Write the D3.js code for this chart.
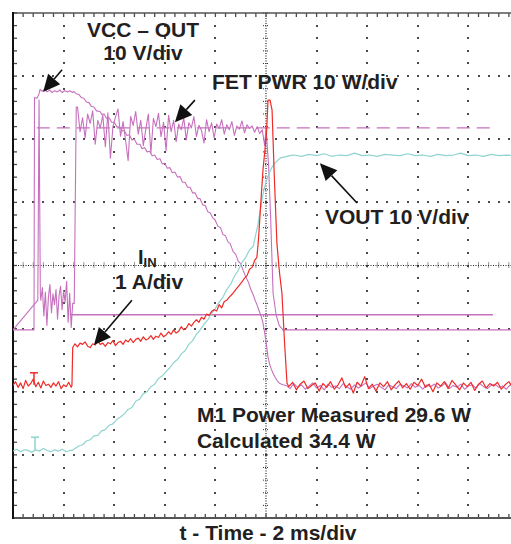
<!DOCTYPE html>
<html>
<head>
<meta charset="utf-8">
<script src="https://cdn.jsdelivr.net/npm/d3@7"></script>
<style>
  body { margin: 0; background: #fff; }
  svg { display: block; }
  .label { font-family: "Liberation Sans", Arial, sans-serif; font-weight: bold; fill: #231f20; }
</style>
</head>
<body>
<div id="scope"></div>
<script>
// time in ms (2 ms/div), trace values in screen divisions (0 = centre line)

// VCC - OUT (magenta)
const vccOutRise = [[0,-1.02],[0.83,-1.02],[0.85,2.66],[0.95,2.65],[1.02,2.71],[1.07,2.79],[1.15,2.76],[1.25,2.79],
  [1.35,2.75],[1.45,2.78],[1.55,2.74],[1.65,2.77],[1.75,2.75],[1.85,2.78],[1.95,2.74],[2.05,2.77],[2.15,2.75],
  [2.25,2.77],[2.35,2.74]];
const vccOutFall = [[2.4,2.76],[2.5,2.72],[2.6,2.71],[2.7,2.66],[2.8,2.65],[2.9,2.59],[3.0,2.58],[3.1,2.52],[3.2,2.51],
  [3.3,2.45],[3.44,2.44],[3.52,2.39],[3.6,2.40],[3.7,2.33],[3.8,2.34],[3.9,2.27],[4.0,2.27],[4.1,2.20],[4.23,2.19],
  [4.32,2.13],[4.4,2.14],[4.5,2.06],[4.6,2.07],[4.7,1.99],[4.8,2.00],[4.9,1.92],[5.02,1.92],[5.1,1.85],[5.2,1.87],
  [5.3,1.80],[5.4,1.81],[5.5,1.74],[5.6,1.75],[5.7,1.68],[5.81,1.69],[5.9,1.61],[6.0,1.62],[6.1,1.54],[6.2,1.55],
  [6.3,1.47],[6.4,1.48],[6.5,1.40],[6.6,1.41],[6.7,1.32],[6.8,1.32],[6.9,1.24],[7.0,1.24],[7.1,1.15],[7.2,1.15],
  [7.3,1.06],[7.39,1.06],[7.5,0.96],[7.6,0.95],[7.7,0.85],[7.8,0.83],[7.9,0.75],[7.98,0.73],[8.1,0.62],[8.2,0.60],
  [8.3,0.49],[8.4,0.47],[8.5,0.37],[8.58,0.35],[8.7,0.22],[8.8,0.18],[8.9,0.07],[9.0,0.03],[9.09,-0.07],[9.2,-0.18],
  [9.3,-0.26],[9.4,-0.38],[9.5,-0.47],[9.57,-0.55],[9.66,-0.64],[9.75,-0.74],[9.82,-0.82],[9.88,-0.91],[9.94,-1.05],
  [10.0,-1.20],[10.08,-1.45],[10.14,-1.56],[10.2,-1.63],[10.28,-1.71],[10.36,-1.77],[10.45,-1.83],[10.55,-1.87],[10.67,-1.89]];
// sampled every 0.15 ms from 10.8 ms
const vccOutTail = [-1.90,-1.95,-1.87,-1.93,-1.89,-1.96,-1.91,-1.86,-1.94,-1.90,-1.97,-1.88,-1.93,-1.91,-1.95,-1.87,
  -1.92,-1.96,-1.89,-1.94,-1.90,-1.86,-1.95,-1.91,-1.88,-1.93,-1.97,-1.89,-1.92,-1.95,-1.88,-1.91,-1.94,-1.87,-1.93,
  -1.90,-1.96,-1.89,-1.92,-1.88,-1.94,-1.91,-1.86,-1.95,-1.90,-1.93,-1.88,-1.96,-1.91,-1.89,-1.94,-1.87,-1.92,-1.95,
  -1.90,-1.88,-1.93,-1.91,-1.96,-1.89,-1.92,-1.90];

// FET PWR (magenta)
const fetSpike = [[0.98,-0.55],[1.03,2.62],[1.08,-0.45]];
// sampled every 0.06 ms from 1.1 ms
const fetStart = [-0.55,-0.35,-0.80,-0.42,-0.95,-0.50,-0.30,-0.75,-0.45,-0.62,-0.38,-0.85,-0.48,-0.33,-0.70,-0.40,
  -0.58,-0.25,-0.90,-0.44,-0.98,-0.60];
// sampled every 0.1 ms from 2.55 ms
const fetOn = [2.51,2.12,2.34,2.02,2.40,2.25,2.45,1.92,2.30,2.18,
  2.38,1.88,2.42,1.70,2.20,2.35,2.48,2.05,2.28,1.98,
  1.66,2.36,2.22,2.44,2.08,2.30,1.90,2.16,2.40,1.78,
  2.33,2.20,2.41,2.04,2.27,1.82,2.38,2.12,2.30,1.96,
  2.24,2.15,2.34,1.99,2.26,2.18,2.36,2.04,2.22,2.14,
  1.94,2.31,2.12,2.26,2.02,2.24,2.17,2.31,2.08,2.23,
  2.15,2.28,2.06,2.21,2.16,2.29,2.10,2.23,2.17,2.21,
  2.11,2.20,2.09,2.15];
const fetOff = [[9.95,1.90],[10.0,2.18],[10.04,1.95],[10.1,1.60],[10.18,0.80],[10.28,-0.44],[10.4,-0.78],[10.52,-0.95],
  [10.67,-1.02],[20,-1.02]];

// I_IN (red)
// sampled every 0.1 ms from 0 ms
const iinBase = [-1.90,-1.84,-1.93,-1.86,-1.95,-1.82,-1.91,-1.87,-1.80,-1.92,-1.85,-1.94,-1.83,-1.90,-1.88,-1.93,
  -1.86,-1.91,-1.84,-1.95,-1.89,-1.92,-1.85,-1.93];
const iinRamp = [[2.33,-1.90],[2.36,-1.30],[2.45,-1.24],[2.55,-1.29],[2.65,-1.23],[2.75,-1.25],[2.85,-1.21],[2.95,-1.28],
  [3.05,-1.30],[3.15,-1.24],[3.25,-1.26],[3.35,-1.20],[3.45,-1.25],[3.55,-1.23],[3.65,-1.28],[3.75,-1.22],[3.85,-1.24],
  [3.95,-1.19],[4.05,-1.27],[4.15,-1.22],[4.25,-1.20],[4.35,-1.25],[4.45,-1.18],[4.55,-1.21],[4.65,-1.16],[4.75,-1.22],
  [4.85,-1.17],[4.95,-1.15],[5.05,-1.20],[5.15,-1.13],[5.25,-1.18],[5.35,-1.16],[5.45,-1.11],[5.55,-1.17],[5.65,-1.12],
  [5.75,-1.14],[5.85,-1.07],[5.95,-1.13],[6.05,-1.10],[6.15,-1.05],[6.25,-1.09],[6.35,-1.02],[6.45,-1.07],[6.55,-1.04],
  [6.65,-0.97],[6.75,-1.02],[6.85,-0.99],[6.95,-0.92],[7.05,-0.96],[7.15,-0.90],[7.25,-0.86],[7.35,-0.90],[7.45,-0.82],
  [7.55,-0.85],[7.65,-0.77],[7.75,-0.79],[7.85,-0.73],[7.95,-0.70],[8.05,-0.72],[8.15,-0.62],[8.25,-0.67],[8.35,-0.57],
  [8.45,-0.55],[8.55,-0.50],[8.65,-0.46],[8.75,-0.41],[8.85,-0.36],[8.95,-0.31],[9.05,-0.26],[9.15,-0.20],[9.25,-0.16],
  [9.35,-0.06],[9.45,-0.03],[9.55,0.08],[9.64,0.13],[9.70,0.40],[9.76,0.77],[9.82,1.15],[9.88,1.51],[9.95,1.80],
  [10.02,2.10],[10.08,2.62],[10.16,2.62],[10.24,2.46],[10.32,1.50],[10.43,0.36],[10.53,-0.10],[10.63,-0.44],
  [10.73,-1.20],[10.83,-1.86]];
// sampled every 0.15 ms from 10.9 ms
const iinTail = [-1.92,-1.85,-1.97,-1.88,-1.83,-1.95,-1.90,-1.86,-1.99,-1.87,-1.93,-1.84,-1.96,-1.89,-1.78,-1.94,
  -1.87,-2.02,-1.85,-1.91,-1.76,-1.95,-1.88,-1.99,-1.86,-1.92,-1.84,-1.97,-1.89,-1.83,-1.94,-1.87,-1.96,-1.85,-1.90,
  -1.80,-1.93,-1.88,-2.00,-1.86,-1.91,-1.84,-1.95,-1.82,-1.89,-1.97,-1.86,-1.92,-1.85,-1.98,-1.88,-1.83,-1.94,-1.87,
  -1.91,-1.85,-1.96,-1.89,-1.84,-1.93,-1.88,-1.90];

// VOUT (cyan)
// sampled every 0.15 ms from 0 ms
const voutBase = [-2.94,-2.91,-2.95,-2.92,-2.93,-2.96,-2.92,-2.94,-2.90,-2.93,-2.95,-2.92,-2.94,-2.91,-2.95,-2.93];
const voutRamp = [[2.33,-2.93],[2.45,-2.90],[2.6,-2.86],[2.75,-2.84],[2.9,-2.78],[3.05,-2.76],[3.2,-2.70],[3.35,-2.69],
  [3.5,-2.62],[3.65,-2.60],[3.8,-2.53],[3.95,-2.51],[4.1,-2.44],[4.25,-2.40],[4.4,-2.35],[4.55,-2.28],[4.7,-2.25],
  [4.85,-2.15],[5.0,-2.12],[5.15,-2.03],[5.3,-2.00],[5.45,-1.92],[5.6,-1.88],[5.75,-1.79],[5.9,-1.75],[6.05,-1.68],
  [6.2,-1.62],[6.35,-1.54],[6.5,-1.49],[6.65,-1.40],[6.8,-1.35],[6.95,-1.25],[7.1,-1.19],[7.25,-1.09],[7.4,-1.02],
  [7.55,-0.93],[7.7,-0.86],[7.85,-0.76],[8.0,-0.68],[8.15,-0.58],[8.3,-0.50],[8.45,-0.38],[8.6,-0.30],[8.75,-0.17],
  [8.9,-0.08],[9.05,0.05],[9.2,0.13],[9.35,0.25],[9.49,0.30],[9.6,0.50],[9.68,0.64],[9.76,0.85],[9.84,1.04],
  [9.92,1.20],[10.0,1.32],[10.12,1.46],[10.24,1.56],[10.35,1.62],[10.47,1.67],[10.6,1.71],[10.75,1.72],[10.95,1.74]];
// sampled every 0.3 ms from 11.1 ms
const voutTail = [1.75,1.73,1.76,1.74,1.77,1.73,1.75,1.74,1.78,1.74,1.75,1.73,1.76,1.75,1.74,1.77,1.74,1.75,1.73,
  1.76,1.74,1.75,1.78,1.74,1.75,1.73,1.76,1.74,1.75,1.74];

// cursors and ground markers
const powerCursor = [[0.94,2.18],[18.97,2.18]];
const levelLine = [[2.25,-0.78],[18.97,-0.78]];
const groundMarks = [{t: 0.83, top: -1.70, base: -1.89, trace: "iin"}, {t: 0.87, top: -2.72, base: -2.93, trace: "vout"}];

// annotation text and arrows (ms, div)
const labels = [
  {text: "VCC \u2013 OUT", t: 5.14, v: 3.62, anchor: "middle"},
  {text: "10 V/div", t: 5.14, v: 3.26, anchor: "middle"},
  {text: "FET PWR 10 W/div", t: 7.87, v: 2.80, anchor: "start"},
  {text: "VOUT 10 V/div", t: 12.33, v: 0.66, anchor: "start"},
  {text: "1 A/div", t: 5.38, v: -0.37, anchor: "middle"},
  {text: "M1 Power Measured 29.6 W", t: 7.27, v: -2.48, anchor: "start"},
  {text: "Calculated 34.4 W", t: 7.27, v: -2.89, anchor: "start"}
];
const arrows = [
  {from: [1.94, 3.10], to: [1.19, 2.75]},
  {from: [7.19, 2.62], to: [6.40, 2.27]},
  {from: [13.60, 0.99], to: [12.13, 1.62]},
  {from: [4.70, -0.55], to: [3.20, -1.26]}
];

const colors = {vcc: "#c670bd", iin: "#ee2b27", vout: "#8fd4cf", grid: "#4a4a4a"};

function sampled(start, step, values) {
  return values.map((v, i) => [start + i * step, v]);
}

class ScopeChart {

    constructor(parentElement) {
        this.parentElement = parentElement;
        this.initVis();
    }

    initVis() {
        let vis = this;

        vis.width = 511;
        vis.height = 544;

        vis.svg = d3.select("#" + vis.parentElement).append("svg")
            .attr("width", vis.width)
            .attr("height", vis.height);

        vis.svg.append("rect").attr("width", vis.width).attr("height", vis.height).attr("fill", "#fff");

        // 10 x 8 divisions
        vis.x = d3.scaleLinear().domain([0, 20]).range([13, 519]);
        vis.y = d3.scaleLinear().domain([-4, 4]).range([518, 13]);

        vis.svg.append("defs").append("clipPath")
            .attr("id", "clip")
            .append("rect")
            .attr("x", 13).attr("y", 12)
            .attr("width", vis.width - 13).attr("height", 507);

        vis.drawGrid();
        vis.drawTraces();
        vis.drawAnnotations();
    }

    drawGrid() {
        let vis = this;
        let g = vis.svg.append("g").attr("class", "grid");

        let majorX = d3.range(2, 19, 2).filter(d => d !== 10);
        let majorY = d3.range(-3, 4, 1).filter(d => d !== 0);
        let minorX = d3.range(0, 20.01, 0.4);
        let minorY = d3.range(-4, 4.01, 0.2);

        // dotted graticule
        majorX.forEach(t => {
            g.selectAll(null).data(minorY.slice(1, -1)).enter().append("rect")
                .attr("x", Math.round(vis.x(t)) - 1).attr("y", d => Math.round(vis.y(d)) - 1)
                .attr("width", 2).attr("height", 2).attr("fill", colors.grid);
        });
        majorY.forEach(v => {
            g.selectAll(null).data(minorX.slice(1)).enter().append("rect")
                .attr("x", d => Math.round(vis.x(d)) - 1).attr("y", Math.round(vis.y(v)) - 1)
                .attr("width", 2).attr("height", 2).attr("fill", colors.grid);
        });

        // centre axes with minor ticks
        g.append("line")
            .attr("x1", vis.x(10)).attr("x2", vis.x(10))
            .attr("y1", vis.y(4)).attr("y2", vis.y(-4))
            .attr("stroke", "#222").attr("stroke-width", 1.2).attr("stroke-dasharray", "1,1.5");
        g.append("line")
            .attr("x1", vis.x(0)).attr("x2", vis.width)
            .attr("y1", vis.y(0)).attr("y2", vis.y(0))
            .attr("stroke", "#222").attr("stroke-width", 1.2).attr("stroke-dasharray", "1,1.5");
        g.selectAll(".cy").data(minorY).enter().append("line")
            .attr("x1", vis.x(10) - 3).attr("x2", vis.x(10) + 3)
            .attr("y1", d => vis.y(d)).attr("y2", d => vis.y(d))
            .attr("stroke", "#333").attr("stroke-width", 1).attr("stroke-dasharray", "1,1");
        g.selectAll(".cx").data(minorX).enter().append("line")
            .attr("x1", d => vis.x(d)).attr("x2", d => vis.x(d))
            .attr("y1", vis.y(0) - 3).attr("y2", vis.y(0) + 3)
            .attr("stroke", "#333").attr("stroke-width", 1).attr("stroke-dasharray", "1,1");

        // edge ticks
        g.selectAll(".tt").data(minorX).enter().append("line")
            .attr("x1", d => vis.x(d)).attr("x2", d => vis.x(d))
            .attr("y1", vis.y(4)).attr("y2", vis.y(4) + 4)
            .attr("stroke", colors.grid).attr("stroke-width", 1.3);
        g.selectAll(".bt").data(minorX).enter().append("line")
            .attr("x1", d => vis.x(d)).attr("x2", d => vis.x(d))
            .attr("y1", vis.y(-4)).attr("y2", vis.y(-4) - 4)
            .attr("stroke", colors.grid).attr("stroke-width", 1.3);
        g.selectAll(".lt").data(minorY).enter().append("line")
            .attr("x1", vis.x(0)).attr("x2", vis.x(0) + 4)
            .attr("y1", d => vis.y(d)).attr("y2", d => vis.y(d))
            .attr("stroke", colors.grid).attr("stroke-width", 1.3);

        // frame
        g.append("line").attr("x1", vis.x(0)).attr("x2", vis.width)
            .attr("y1", vis.y(4)).attr("y2", vis.y(4))
            .attr("stroke", "#555").attr("stroke-width", 1.6);
        g.append("line").attr("x1", vis.x(0)).attr("x2", vis.width)
            .attr("y1", vis.y(-4)).attr("y2", vis.y(-4))
            .attr("stroke", "#555").attr("stroke-width", 2);
        g.append("line").attr("x1", vis.x(0)).attr("x2", vis.x(0))
            .attr("y1", vis.y(4) - 1).attr("y2", vis.y(-4) + 1)
            .attr("stroke", "#111").attr("stroke-width", 2);
    }

    drawTraces() {
        let vis = this;
        let g = vis.svg.append("g").attr("clip-path", "url(#clip)");

        let line = d3.line().x(d => vis.x(d[0])).y(d => vis.y(d[1]));

        let traces = [
            {data: powerCursor, color: colors.vcc, dash: "13,7", w: 1.3},
            {data: levelLine, color: colors.vcc, w: 1.5},
            {data: [[0, -1.02]].concat(fetSpike, sampled(1.1, 0.06, fetStart), [[2.42, -0.6], [2.5, 2.51]],
                sampled(2.55, 0.1, fetOn), fetOff), color: colors.vcc, w: 1.1},
            {data: vccOutRise.concat(vccOutFall, sampled(10.8, 0.15, vccOutTail)), color: colors.vcc, w: 1.1},
            {data: sampled(0, 0.15, voutBase).concat(voutRamp, sampled(11.1, 0.3, voutTail)), color: colors.vout, w: 1.2},
            {data: sampled(0, 0.1, iinBase).concat(iinRamp, sampled(10.9, 0.15, iinTail)), color: colors.iin, w: 1.2}
        ];

        g.selectAll("path.trace").data(traces).enter().append("path")
            .attr("class", "trace")
            .attr("d", d => line(d.data))
            .attr("fill", "none")
            .attr("stroke", d => d.color)
            .attr("stroke-width", d => d.w)
            .attr("stroke-dasharray", d => d.dash || null)
            .attr("stroke-linejoin", "round");

        // ground level "T" markers
        groundMarks.forEach(m => {
            let c = colors[m.trace];
            g.append("line").attr("x1", vis.x(m.t)).attr("x2", vis.x(m.t))
                .attr("y1", vis.y(m.top)).attr("y2", vis.y(m.base))
                .attr("stroke", c).attr("stroke-width", 1.5);
            g.append("line").attr("x1", vis.x(m.t) - 4).attr("x2", vis.x(m.t) + 4)
                .attr("y1", vis.y(m.top)).attr("y2", vis.y(m.top))
                .attr("stroke", c).attr("stroke-width", 1.5);
        });
    }

    drawAnnotations() {
        let vis = this;
        let g = vis.svg.append("g");

        g.selectAll("text.note").data(labels).enter().append("text")
            .attr("class", "label note")
            .attr("x", d => vis.x(d.t))
            .attr("y", d => vis.y(d.v))
            .attr("text-anchor", d => d.anchor)
            .attr("font-size", 21)
            .text(d => d.text);

        // I with IN subscript
        let iin = g.append("text").attr("class", "label")
            .attr("x", vis.x(4.94)).attr("y", vis.y(0.02)).attr("font-size", 20);
        iin.append("tspan").text("I");
        iin.append("tspan").attr("font-size", 13).attr("dy", 3).text("IN");

        // arrows
        arrows.forEach(a => {
            let x0 = vis.x(a.from[0]), y0 = vis.y(a.from[1]);
            let x1 = vis.x(a.to[0]), y1 = vis.y(a.to[1]);
            let ang = Math.atan2(y1 - y0, x1 - x0);
            let len = 17, half = 8;
            let bx = x1 - len * Math.cos(ang), by = y1 - len * Math.sin(ang);
            g.append("line").attr("x1", x0).attr("y1", y0).attr("x2", bx).attr("y2", by)
                .attr("stroke", "#111").attr("stroke-width", 1.6);
            let pts = [[x1, y1],
                [bx + half * Math.sin(ang), by - half * Math.cos(ang)],
                [bx - half * Math.sin(ang), by + half * Math.cos(ang)]];
            g.append("polygon").attr("points", pts.map(p => p.join(",")).join(" ")).attr("fill", "#111");
        });

        // axis title
        vis.svg.append("text").attr("class", "label")
            .attr("x", 268).attr("y", 540)
            .attr("text-anchor", "middle")
            .attr("font-size", 21)
            .text("t - Time - 2 ms/div");
    }
}

new ScopeChart("scope");
</script>
</body>
</html>
